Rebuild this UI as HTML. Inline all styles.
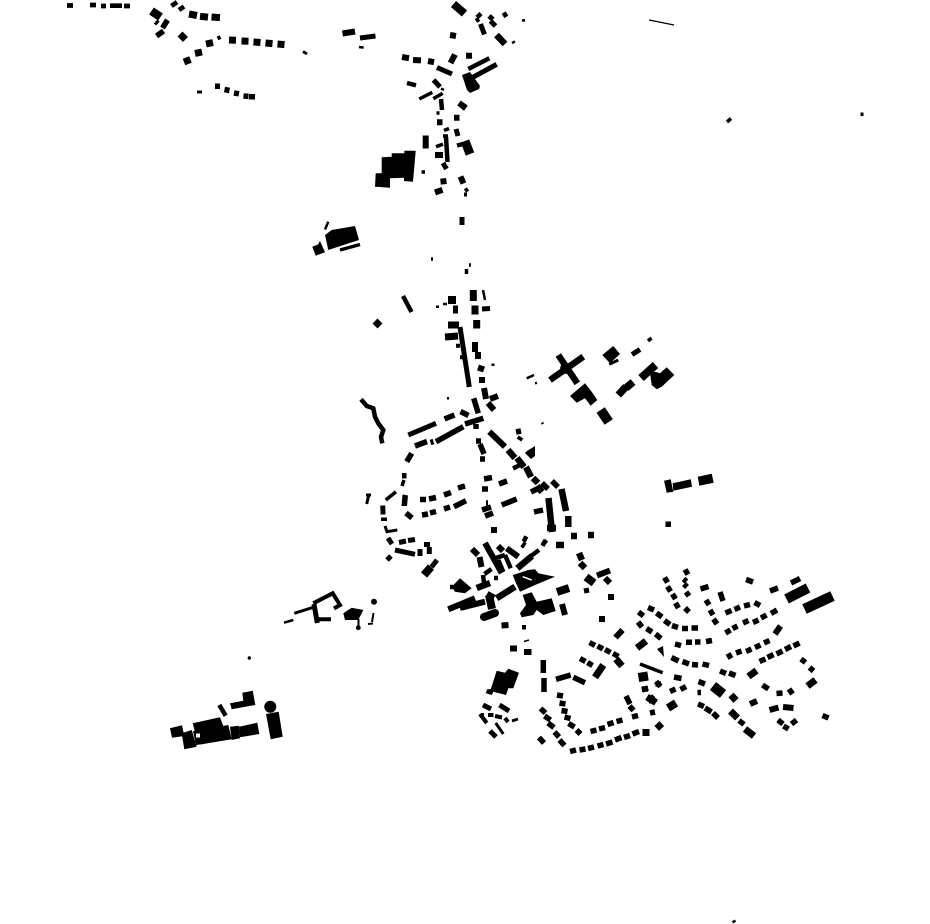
<!DOCTYPE html>
<html><head><meta charset="utf-8"><style>html,body{margin:0;padding:0;background:#fff}svg{display:block}path{fill:none;stroke:#000}polygon,circle,rect{fill:#000}</style></head><body>
<svg width="930" height="924" viewBox="0 0 930 924" xmlns="http://www.w3.org/2000/svg">
<!-- polygons -->
<polygon points="381.7,157.3 391.7,156.7 391.7,153.3 404.3,153.3 404.3,150.7 415.7,150.7 413,181.7 404,181 404,177.7 390,178.3 390,187.7 375,186.7 375.7,173.3 381.7,173.3"/>
<polygon points="325,235 331.7,230 355,226 359,240 328.3,250"/>
<polygon points="312.3,246.7 318,244.5 320,241 325,252.3 315.7,255.7"/>
<polygon points="602.3,355 613.3,346 620,354 610,363.3"/>
<polygon points="570,396 585,383.3 591.7,391.7 597.3,400 590.7,405.7 585,398.3 576.7,402.7"/>
<polygon points="650,373.3 655,371.7 660,373.3 666.7,367.3 674.3,375 661.7,386.7 656.7,389.3 651.7,385"/>
<polygon points="664,480.7 670.7,479.3 673.3,491.7 666.7,492.7"/>
<polygon points="672.7,483.3 690.7,479.3 692,486.7 673.3,490.7"/>
<polygon points="697.7,476.7 711.7,473.7 713.7,482.7 699.3,485.7"/>
<polygon points="451.7,586.7 460,578.3 471.7,588.3 465,593.3 455,591.7"/>
<polygon points="512.7,575 520,572.7 528.3,570 535,569.3 538.3,573.3 555,576.7 535,585 520,591.7 516,583.3"/>
<polygon points="522.7,595 531.7,592.3 536.7,601.7 551.7,598.3 555.7,611 543.3,615 536.7,610 533.3,615 521.7,617.3 520,613.3 526,605"/>
<polygon points="343.3,613.3 351.7,607.7 363.3,610 358.3,620 345,620"/>
<polygon points="242.3,692.7 252.7,690.7 255.3,705 231.7,709.3 230,703.3 243.3,700.7"/>
<polygon points="266,714 278.7,711.7 282.7,736.7 270.7,739.3"/>
<polygon points="170,728.3 182,725.3 184.3,736 172,737.7"/>
<polygon points="181.7,733.3 191.7,730 196.7,746.7 184.3,749.3"/>
<polygon points="192.7,723.3 220,717.3 223.3,726 195,731.7"/>
<polygon points="193,731 202,730 204,744 196,745"/>
<polygon points="200,730 228.3,725 231.7,739.3 203.3,744"/>
<polygon points="230,726.7 239,725.7 240,738.3 231.7,740"/>
<polygon points="239,726.7 257.3,722.7 259.3,734 240,737.3"/>
<polygon points="496.7,670.7 505,672.7 508.3,668.7 519,672.7 513.3,688.3 508.3,688.3 506,695 493.3,691.7 491.7,695 485.7,693.3 487.3,689.3 490.7,689.3 492.7,683.3"/>
<polygon points="462,75 470,72 480,86 479,89 470,93 467,90"/>
<polygon points="527,451 535,446 535,456 531,459 525,453"/>
<polygon points="657,649 663,646 664,657"/>
<rect x="422.7" y="135.5" width="6" height="13"/>
<rect x="459.5" y="217" width="5" height="8"/>
<rect x="665.5" y="521.5" width="5.5" height="5.5"/>
<polygon points="402.5,494.5 408,495.5 407,506 401.5,506"/>
<circle cx="565.7" cy="368.3" r="5.5"/><circle cx="270.3" cy="706.7" r="6"/><circle cx="374" cy="601.7" r="3"/><circle cx="358.3" cy="627.7" r="2.4"/><circle cx="249.3" cy="658" r="1.7"/>
<!-- top-left groups -->
<path stroke-width="4.7" d="M67,5.5h6M90,5h6M101,6h5M110,5.7h12M124,6h6M171.5,6L177,2M179,10l5,-3.5"/>
<path stroke-width="8.5" d="M151.5,11L160.5,17"/>
<path stroke-width="3" d="M155,24.5L158.5,20.5M303,51.5L307,54M197,92h5"/>
<path stroke-width="5.5" d="M162.5,28L167.5,20M156.5,36L163.5,31M215,86.3h5M224.5,89.5l5,1M234,93l5,.8M243.5,96l5,.4M249,96.6l6,.3"/>
<path stroke-width="7" d="M189,14l8,1.5M200,16.3l8,.8M211.5,17l8.5,.6M180,34l5.5,5.5M206,44l7,-1.5M195,53.5l7,-1.5M184,62l6.5,-2.5M229,40l7,.3M241.5,41l7,.3M253.5,42l7,.5M265.5,43l7,.6M277.5,44l7,.6"/>
<path stroke-width="4" d="M217.5,38.5l3,-1.5"/>
<!-- north cluster -->
<path stroke-width="8" d="M453.5,4L464.5,13.5"/>
<path stroke-width="6" d="M342.5,33.5l12.5,-2M402,57l7,1.2M413,60l8,.4M428,61l6,1.2M450.5,63L455,54.5M466,55.7h6M450,35l6,1M459,103l7,5M454,117.7h5.5M437,122.3h5.5M435,155h8M440.5,181.7l6,-.7M460.5,176.5l3,7M435,192.5l7.5,-2.7"/>
<path stroke-width="5" d="M360,38l15.5,-2M437,67.5L452,74M489,16l4,3.5M490.5,21l5,5M503,16l4,-2.5M480.5,24L484.5,34.5M471,78.3L496.7,64.3M433.5,80L440,87M456,129l2,7M443,163l3.5,6"/>
<path stroke-width="2.5" d="M359,47l4.7,.6M441,88.5l3,1.5M522,20.5l3,-.3M512,43l3,-1.5M325,229.5L328.3,221.7"/>
<path stroke-width="6.5" d="M496.5,35L505,44"/>
<path stroke-width="4.5" d="M468.3,69L489.3,58.3M407,83l9,2.3M477,17.5l4,-4M476,21l3,-2M461,105l4,4M457,145.5l10,-2.5"/>
<path stroke-width="3.5" d="M419.3,99L432.3,92.3M433.3,98.7l9.4,-5.4M436.5,113h3M444,130.5l5,-2M443,136h5M421.5,172h3.5M436,146.7l7,-2.5"/>
<path stroke-width="4.5" d="M441,99l1,11M446,137l1.5,25"/>
<path stroke-width="9" d="M465,141l5,13"/>
<path stroke-width="4" d="M464,194.5h3M465,191l3,-2"/>
<path stroke-width="3.5" d="M340,250l20,-5.5M466.5,269v5M469,265h2M431,259h2"/>
<!-- mid spine -->
<path stroke-width="4.5" d="M403,296l8.5,16"/>
<path stroke-width="7" d="M375,321l5,5M473.3,290v11M475,305.5v9M476.7,320v8.5M448,325l11,0M445,337l13,-1"/>
<path stroke-width="8" d="M448,300h8M453,309.5h5"/>
<path stroke-width="2.5" d="M483,290l2,10M436,306.7h3M443,304h4M491.5,364.7h3M526.7,378.3l7.3,-3.3M535,383.3l2,-.5M542,422.5l1,1.5M447,398.3h2"/>
<path stroke-width="5" d="M460,327L469.3,387M482,309l8,-.5"/>
<path stroke-width="5" d="M408.3,435L436,423.3"/>
<path stroke-width="4" d="M456,345.7l4,0M460,357.3h4"/>
<path stroke-width="6" d="M475,342v10M478,352v7M478,367.5l6,2M479,380h6M484,388l2,11M490,399l8,-3M488,403l6,7"/>
<path stroke-width="5.5" d="M473.7,398.3l4.6,15M460.5,411.5l8,4M444.5,419l10,-4M415,446l12,-4.5M430.5,442.5l3,-1M436,441.7L463.3,426.7M465,424L483.3,418.3M476,424v5M476,441h5M480,444l4,10M480,459l5,0"/>
<path stroke-width="6" d="M489.3,431.7L505,446.7"/>
<path stroke-width="4.5" d="M361,399.3L366.7,406L373.3,408.3L375,416.7L378.3,423.3L383.3,430L381,437L382.3,443.3"/>
<!-- ring road west -->
<path stroke-width="5.5" d="M406.7,461.7L411.7,453.3M402,475.7h4.5M516,432l5,-1M519,440l2,-3M484,479l8,-1.5M482,489h6M499,484l8,-3M458,488l7,-2M444,495l7,-2.5M429,499l7,-1.5M420,499.5h6M454,506.7l12,-6M444,509l6,-2M430,513l6,-1.5M422,515l6,-1M406,513l6,5M486,503h2M482,510l9,-3M485,516l8,-3M501.7,505L516.7,499M531,492l8,-4M534,512l9,-2M542,483l6,6M552,481l6,6"/>
<path stroke-width="3.5" d="M385.7,500L396,491.7M402,486l2,-6M381,519.3h6"/>
<path stroke-width="3" d="M369,494l-2.3,10M366,495h5M385,526l2,5.7L397.3,530"/>
<path stroke-width="5" d="M382.7,505.5l.4,9M388,538l4,6M399,542.5l7,-1.5M408,540.5l7,-1M395,550l20,4.3M420,549v7M424,544.5h6M429.3,547v7M387,560l4,-4M437,560l-5.5,7"/>
<path stroke-width="8" d="M431,567l-7,8"/>
<path stroke-width="6.5" d="M508,450l7,8M517,458l7,9M515,465l2,4M526,467l5,10M533,478l5,5M537,486l5,6M561.5,489L566,511M548.5,498L552,532M547,528h9M571,536h6M588,535h6M568.3,516v11M542,542l4,2M556,545h8M579,553l3,7M580,563l5,5"/>
<!-- central core -->
<path stroke-width="6" d="M485,543L501.7,573M472,549l6,6M479.5,557l2,10M498,546l5,5M506.7,548.3L518.3,556.7M523,538l4,2M522,544l3,2M543,541l3,3M491,530h6M448.3,609.3L475,598.3M460,608L485,601.7M587,578l7,4M605,578l5,5M608,597l6,0M599,619l6,0"/>
<path stroke-width="4.5" d="M495,558.3l10,-3.3M505,555l5.7,13.3M498.3,560l5,12M484.5,574l7,-5M494,578h4M483,575l1,8M450,587h3M522,627.3l4,0"/>
<path stroke-width="6.5" d="M476.7,588L490,583M517.3,568.3L532,556M496.7,598.3L515,586.7M487,594l7,4"/>
<path stroke-width="4.5" d="M531,556l8,-6"/>
<path stroke-width="8" d="M489,595l3,14"/>
<path stroke-width="8" stroke-linecap="round" d="M484,617l11,-4"/>
<path stroke-width="1.5" style="stroke:#fff" d="M522.7,576.7l9,3.3"/>
<path stroke-width="8" d="M557,592l12,-4"/>
<path stroke-width="6" d="M562,604l3,11M501.5,625.5l7,-.5M510,648.5h7M524,652h7.5"/>
<path stroke-width="1.5" d="M524,641.5l5,-1.5"/>
<path stroke-width="8" d="M586,577l8,6"/>
<path stroke-width="6" d="M597,575.5l13,-5"/>
<path stroke-width="5" d="M584,591l5,-1"/>
<!-- west / small -->
<path stroke-width="2.5" d="M284,622.7l9.3,-2.7"/>
<path stroke-width="3" d="M294.3,613.3l19,-6"/>
<path stroke-width="4" d="M313.3,603.3L332.7,593.3L340,605L334,608.5M317.3,619.3H331"/>
<path stroke-width="5" d="M314,604l3.3,19"/>
<path stroke-width="2" d="M358.5,619v7M373.5,613l-1.5,9M368,624l5,-.5"/>
<path stroke-width="4.5" d="M219.3,705l6.4,10.7"/>
<path stroke-width="4" style="stroke:#fff" d="M196,735.5h4"/>
<!-- south cluster -->
<path stroke-width="5" d="M499.5,705L509,711M483,705l8,4M490,731l6,6"/>
<path stroke-width="4" d="M480,714l6.7,9M488,715h5.5M495,716l7,1.5M505,718l3,4M481,715l3,0"/>
<path stroke-width="3" d="M495.7,723l7.6,11M512,721l6,-2"/>
<!-- NE -->
<path stroke-width="6.5" d="M558.3,355L577.3,383.3M550,380L583.3,356.7"/>
<path stroke-width="3" d="M609.3,364.3l9,-4.3"/>
<path stroke-width="5" d="M632,354.5l8,-5"/>
<path stroke-width="3.5" d="M648,341l3.5,-3"/>
<path stroke-width="10" d="M600.7,410L608.7,422"/>
<path stroke-width="7.5" d="M618.3,395L626,386.7M626,388l7,-6"/>
<path stroke-width="8" d="M641,378L655.5,365"/>
<path stroke-width="3.5" d="M727,122l4,-3.5M860.5,114.3h3"/>
<path stroke-width="1.4" d="M649,20L674,25"/>
<path stroke-width="2.5" d="M732.5,922.5l3,-2"/>
<!-- SE estate -->
<path stroke-width="5.5" d="M664.5,577.5l3,5M667.5,586.5l3,5M672.5,594l3,5M675.5,603l3,5M685,569.5l3,5M683.5,579l3,2.5M684,584l3,3M686,592l3,4M685,608l4,4M700.5,589l8,-2.5M720,592l3,9M706,600l3,5M710,610l3,5M713.5,619l3.5,5M725.5,613l6,-2.5M734.5,609.5l5.5,-2.5M744,606l6,-1.5M754.5,602.5l5.5,3M725.5,633l5,-3M732.5,628.5l5,-2.5M743,623l5.5,-2.5M753,622.5l5.5,-2.5M761,618l5.5,-3M771,613.5l6,-3.5M746,579.5l7,2.5M770,591l8,-3M791,583l9,-4.5M638.5,612l5,4M648,607.5l6,2.5M656.5,613l5.5,4M664.5,620.5l5.5,4M672,625.5l6,2M682,628.5h6M691.5,628h6.5M638,622l4,5M646.5,628.5l5.5,3.5M655.5,634l5.5,4.5M675,644l6,1.5M686,642.3h6M695,642h5.5M706,641.5l6,-1M671.5,657.5l7,3.5M682.5,661.5l6.5,2.5M692,664.5l6,.5M702.5,664l6.5,1.5M728,653.5l3,5M736,653l5.5,-2M746,651.5l5.5,-2.5M755,647.5l5.5,-2.5M764,643l5.5,-2.5M759.5,661.5l6,-2.5M767.5,657.5l6,-3M776.5,654l6,-3M785,649.5l6,-3M793.5,646l6,-3M801,659l4.5,3.5M809.5,667.5l4,3.5M720,671l6,2.5M729,673l6.5,2.5M589.5,642.5l5.5,3M597.5,646l5.5,3M605,649.5l5.5,3M613,653.5l5.5,3M580,658.5l5.5,3M587.5,662.5l5,3M674,677l7.5,1.5M656,681.5l4.5,5M642,690l6,-2M650,713l5,-1M670,691.5l5.5,-2.5M680.5,689.5l5.5,-3M698.5,681.5l6.5,2.5M697.5,692.5l3.5,0M698,704l6,2.5M705,708l6.5,4M713,713l5,5M739,720.5l5,4M762.5,685l6,4M776.5,693.5l6,-.5M789,689l3.5,5M778,720l5,4M783.5,726l5,3M791.5,724l5,-4M822.5,715.5l6,2.5"/>
<path stroke-width="7" d="M731,695l5,5.5M647,697l9,5.5M730.5,711l7,7M745,729l9,7M637,648l9,-7M616,659l6,7M807.5,686l8,-6M748.5,676.5l8,-6"/>
<path stroke-width="6" d="M769.5,710l9,-2.5M783,707l10.5,1M750,704l7,-3"/>
<path stroke-width="10" d="M713,686l10,8"/>
<path stroke-width="8" d="M668,708l8,-5"/>
<path stroke-width="6" d="M775,634l5.5,-8M615.5,637.5l7,-7.5"/>
<path stroke-width="10" d="M786.5,599L808,588"/>
<path stroke-width="10.5" d="M804.5,609L832.5,596"/>
<path stroke-width="3.5" d="M640,664L662.7,672.7"/>
<path stroke-width="9" d="M638.5,677.5l9.5,-1.5"/>
<path stroke-width="5.5" d="M655.5,684h5.5M642,689h6"/>
<path stroke-width="7" d="M595,677.3L603.3,665"/>
<path stroke-width="5.5" d="M543.3,660v13M544,678v14M556,679.3L570.7,675M573.3,677.3L585,682.7M557,695l6,1M559.5,703l6,1M561.5,710.5l6,1M564.5,717l6,1.5M568.5,723.5l6,3.5M576.5,730l4,4M590.5,731.5l6,-1.5M599,729l6,-1.5M607.5,724.5l6,-2M616.5,721.5l6,-1.5M632,717l6,-1.5M629.5,706l4,4.5M626,696l4,8M540.5,708.5l5,4.5M544.5,716l6,4M548,723l6,4.5M554.5,732l4.5,5M559.5,740l5,5.5M539,737.5l5,5.5M570,751.5l6,-1.5M579.5,750l6,-1M588,748.5l6,-1.5M597.5,746l6,-1.5M606,744l6.5,-2M615,740l6.5,-2.5M624,737.5l6,-2M632.5,734l6.5,-2.5"/>
<path stroke-width="7" d="M642.5,732.5h7M657,723.5l4.5,5M649,700l6,0"/>
<path stroke-width="6" d="M650,696l5,7"/>
</svg></body></html>
